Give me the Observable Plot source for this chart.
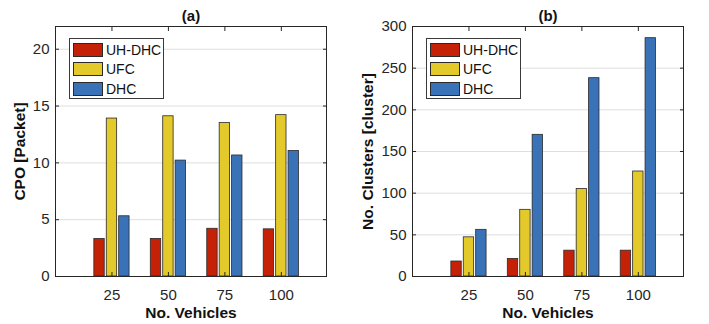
<!DOCTYPE html>
<html><head><meta charset="utf-8">
<script src="https://cdn.jsdelivr.net/npm/d3@7"></script>
<script src="https://cdn.jsdelivr.net/npm/@observablehq/plot@0.6"></script>
<style>
body{margin:0;background:#fff;font-family:"Liberation Sans",Arial,sans-serif;}
#wrap{position:relative;width:709px;height:324px;overflow:hidden;}
.panel{position:absolute;top:0;}
.panel svg g[aria-label="x-axis tick label"], .panel svg g[aria-label="y-axis tick label"]{font-size:15px;}
.legend{position:absolute;border:1px solid #3a3a3a;background:#fff;padding:1px 2px 0 3px;box-sizing:border-box;width:95px;height:61px;font-family:"Liberation Sans",Arial,sans-serif;}
.row{display:flex;align-items:center;height:19.5px;white-space:nowrap;}
.sw{width:28px;height:12px;border:1px solid #2a2a2a;margin-right:3px;flex:none;}
.row span{font-size:14px;color:#111;line-height:1;white-space:nowrap;}
</style></head><body><div id="wrap"></div>
<script>
const vehicles = [25, 50, 75, 100];
const series = ["UH-DHC", "UFC", "DHC"];
const colors = ["#C42107", "#E3C92A", "#3A72B8"];
const cpoUHDHC = [3.3, 3.3, 4.2, 4.15];
const cpoUFC = [13.9, 14.1, 13.5, 14.2];
const cpoDHC = [5.3, 10.2, 10.65, 11.05];
const clUHDHC = [18, 21, 31, 31];
const clUFC = [47, 80, 105, 126];
const clDHC = [56, 170, 238, 286];
const yTicksA = [0, 5, 10, 15, 20];
const yTicksB = [0, 50, 100, 150, 200, 250, 300];

function rowsOf(valueLists) {
  const rows = [];
  valueLists.forEach((vals, i) => vals.forEach((v, j) => rows.push({vehicles: vehicles[j], series: series[i], i, value: v})));
  return rows;
}

const step = 5.5, barW = 4.6;
const wrap = document.getElementById("wrap");

function makePanel({title, ylabel, values, yDomain, yTicks, left, width, ml, mr, ylabelDx}) {
  const data = rowsOf(values);
  const chart = Plot.plot({
    width, height: 324,
    marginLeft: ml, marginRight: mr, marginTop: 26, marginBottom: 48,
    style: {fontFamily: "'Liberation Sans', Arial, sans-serif", fontSize: "15px", color: "#262626", background: "transparent"},
    x: {domain: [0, 120], axis: null},
    y: {domain: yDomain, axis: null},
    color: {domain: series, range: colors},
    marks: [
      Plot.gridY(yTicks, {stroke: "#dedede", strokeOpacity: 1}),
      Plot.rect(data, {
        x1: d => d.vehicles + (d.i - 1) * step - barW / 2,
        x2: d => d.vehicles + (d.i - 1) * step + barW / 2,
        y1: 0, y2: "value", fill: "series", stroke: "#2a2a2a", strokeWidth: 0.8
      }),
      Plot.axisY(yTicks, {anchor: "left", tickSize: 0, tickPadding: 6, label: null, fontSize: 15}),
      Plot.axisY(yTicks, {anchor: "left", tickSize: -4, tickFormat: () => "", label: null}),
      Plot.axisY(yTicks, {anchor: "right", tickSize: -4, tickFormat: () => "", label: null}),
      Plot.axisX(vehicles, {anchor: "bottom", tickSize: 0, tickPadding: 13, label: null, fontSize: 15}),
      Plot.axisX(vehicles, {anchor: "bottom", tickSize: -4, tickFormat: () => "", label: null}),
      Plot.axisX(vehicles, {anchor: "top", tickSize: -4, tickFormat: () => "", label: null}),
      Plot.frame({stroke: "#262626"}),
      Plot.text([title], {text: d => d, frameAnchor: "top", lineAnchor: "middle", dy: -10, fontWeight: "bold", fontSize: 15, fill: "#111"}),
      Plot.text(["No. Vehicles"], {text: d => d, frameAnchor: "bottom", lineAnchor: "middle", dy: 37, fontWeight: "bold", fontSize: 15.5, fill: "#111"}),
      Plot.text([ylabel], {text: d => d, frameAnchor: "left", textAnchor: "middle", lineAnchor: "middle", rotate: -90, dx: ylabelDx, fontWeight: "bold", fontSize: 15.5, fill: "#111"})
    ]
  });
  const div = document.createElement("div");
  div.className = "panel";
  div.style.left = left + "px";
  div.style.width = width + "px";
  div.appendChild(chart);
  wrap.appendChild(div);

  const cs = chart.scale("color");
  const lg = document.createElement("div");
  lg.className = "legend";
  lg.style.left = (left + ml + 14) + "px";
  lg.style.top = (26 + 12) + "px";
  cs.domain.forEach((name, k) => {
    const r = document.createElement("div");
    r.className = "row";
    const sw = document.createElement("div");
    sw.className = "sw";
    sw.style.background = cs.range[k];
    const t = document.createElement("span");
    t.textContent = name;
    r.appendChild(sw); r.appendChild(t);
    lg.appendChild(r);
  });
  wrap.appendChild(lg);
}

makePanel({title: "(a)", ylabel: "CPO [Packet]", values: [cpoUHDHC, cpoUFC, cpoDHC], yDomain: [0, 22], yTicks: yTicksA, left: 0, width: 355, ml: 55, mr: 29, ylabelDx: -35});
makePanel({title: "(b)", ylabel: "No. Clusters [cluster]", values: [clUHDHC, clUFC, clDHC], yDomain: [0, 300], yTicks: yTicksB, left: 355, width: 354, ml: 57, mr: 26, ylabelDx: -44});
</script></body></html>
